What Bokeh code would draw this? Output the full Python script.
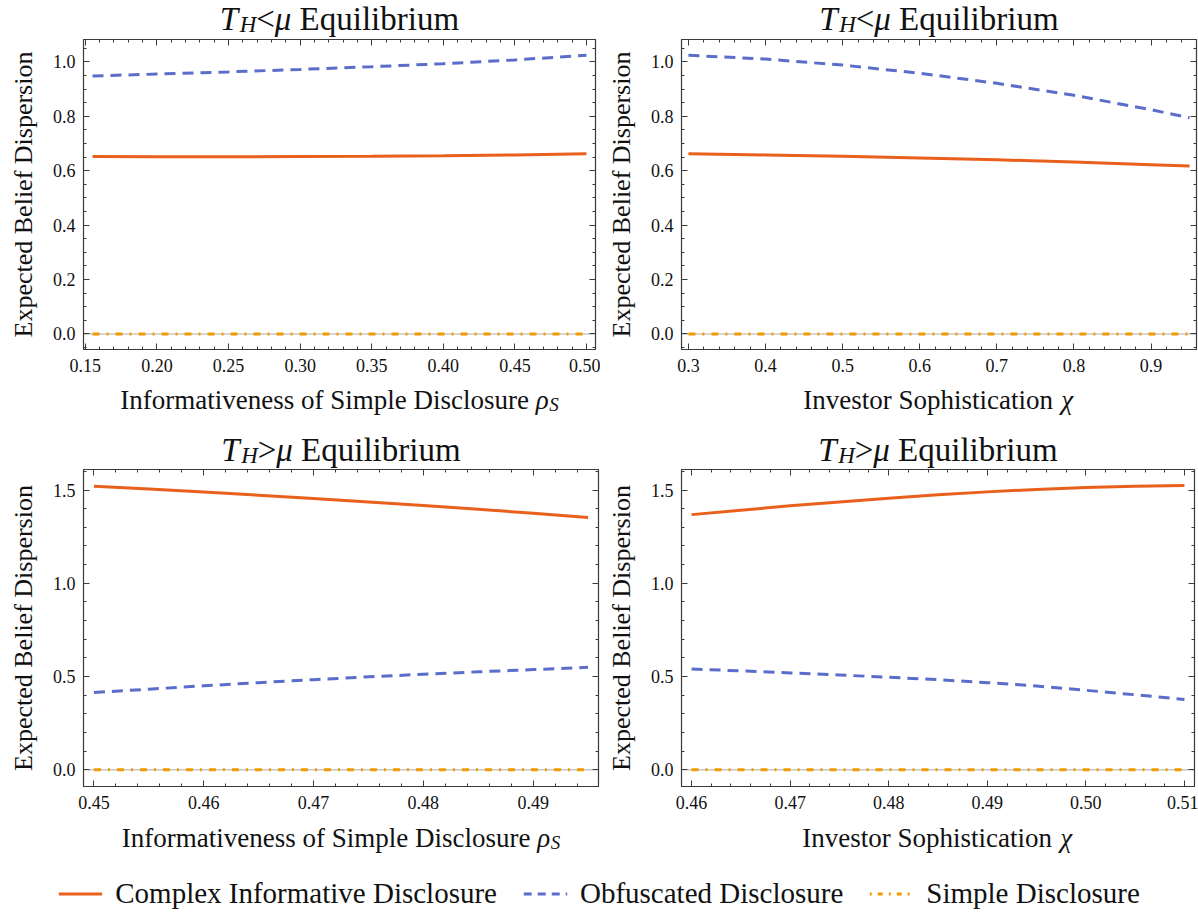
import numpy as np
from bokeh.plotting import figure
from bokeh.models import (Range1d, LinearAxis, FixedTicker, Span, Label, Legend,
                          LegendItem, NumeralTickFormatter, CustomJSTickFormatter)
from bokeh.layouts import column, row
from bokeh.embed import file_html
from bokeh.resources import INLINE

# ---------------- data ----------------
# Top-left: T_H < mu, x = informativeness of simple disclosure rho_S
tl_x = [0.155, 0.20, 0.25, 0.30, 0.35, 0.40, 0.45, 0.50]
tl_complex = [0.652, 0.651, 0.651, 0.652, 0.653, 0.655, 0.658, 0.662]
tl_obfus = [0.948, 0.955, 0.963, 0.972, 0.982, 0.993, 1.007, 1.024]
tl_simple = [0.0, 0.0, 0.0, 0.0, 0.0, 0.0, 0.0, 0.0]

# Top-right: T_H < mu, x = investor sophistication chi
tr_x = [0.30, 0.40, 0.50, 0.60, 0.70, 0.80, 0.90, 0.95]
tr_complex = [0.662, 0.658, 0.653, 0.647, 0.640, 0.632, 0.622, 0.617]
tr_obfus = [1.024, 1.010, 0.988, 0.958, 0.921, 0.877, 0.824, 0.794]
tr_simple = [0.0, 0.0, 0.0, 0.0, 0.0, 0.0, 0.0, 0.0]

# Bottom-left: T_H > mu, x = rho_S
bl_x = [0.450, 0.455, 0.460, 0.465, 0.470, 0.475, 0.480, 0.485, 0.490, 0.495]
bl_complex = [1.520, 1.505, 1.489, 1.472, 1.455, 1.436, 1.417, 1.397, 1.375, 1.352]
bl_obfus = [0.414, 0.432, 0.450, 0.467, 0.483, 0.498, 0.512, 0.525, 0.537, 0.549]
bl_simple = [0.0, 0.0, 0.0, 0.0, 0.0, 0.0, 0.0, 0.0, 0.0, 0.0]

# Bottom-right: T_H > mu, x = chi
br_x = [0.460, 0.465, 0.470, 0.475, 0.480, 0.485, 0.490, 0.495, 0.500, 0.505, 0.510]
br_complex = [1.368, 1.392, 1.415, 1.436, 1.456, 1.474, 1.490, 1.503, 1.513, 1.520, 1.524]
br_obfus = [0.540, 0.530, 0.519, 0.508, 0.496, 0.483, 0.467, 0.449, 0.426, 0.402, 0.377]
br_simple = [0.0, 0.0, 0.0, 0.0, 0.0, 0.0, 0.0, 0.0, 0.0, 0.0, 0.0]

series_names = ["Complex Informative Disclosure", "Obfuscated Disclosure", "Simple Disclosure"]
y_label = "Expected Belief Dispersion"

# ---------------- styles ----------------
FONT = "Liberation Serif"
C_COMPLEX = "#E8601C"
C_OBF = "#5B6DCB"
C_SIMPLE = "#F29A00"
FRAME = "#3a3a3a"
TXT = "#111111"
DASH_OBF = "11 7"
DASH_SIMPLE = "7 7 2 7"
LW = 3
BASE_FIX = 10  # compensation for where the svg backend puts the alphabetic baseline


def ticks(a, b, step):
    n = int(round((b - a) / step))
    return [round(a + i * step, 6) for i in range(n + 1)]


def make_panel(width, height, xr, yr, borders, xt, xmt, yt, ymt, xfmt, yfmt):
    bl, br, bt, bb = borders
    p = figure(width=width, height=height, output_backend="svg", toolbar_location=None,
               x_range=Range1d(*xr), y_range=Range1d(*yr),
               min_border_left=bl, min_border_right=br, min_border_top=bt, min_border_bottom=bb)
    p.grid.visible = False
    p.outline_line_color = FRAME
    p.outline_line_width = 1.2
    p.background_fill_color = "white"
    p.border_fill_color = "white"
    bottom = p.below[0]
    left = p.left[0]
    xtick = FixedTicker(ticks=xt, minor_ticks=xmt)
    ytick = FixedTicker(ticks=yt, minor_ticks=ymt)
    bottom.ticker = xtick
    left.ticker = ytick
    bottom.formatter = NumeralTickFormatter(format=xfmt)
    left.formatter = NumeralTickFormatter(format=yfmt)
    top = LinearAxis(ticker=xtick, formatter=CustomJSTickFormatter(code="return ''"))
    right = LinearAxis(ticker=ytick, formatter=CustomJSTickFormatter(code="return ''"))
    p.add_layout(top, "above")
    p.add_layout(right, "right")
    for ax in [bottom, left, top, right]:
        ax.axis_line_color = FRAME
        ax.major_tick_line_color = FRAME
        ax.minor_tick_line_color = FRAME
        ax.major_tick_in = 6
        ax.major_tick_out = 0
        ax.minor_tick_in = 3
        ax.minor_tick_out = 0
        ax.major_label_text_font = FONT
        ax.major_label_text_font_size = "18px"
        ax.major_label_text_color = TXT
    for ax in [top, right]:
        ax.major_label_text_font_size = "0px"
        ax.major_label_standoff = 0
    bottom.major_label_standoff = 9
    left.major_label_standoff = 8
    left.axis_label = y_label
    left.axis_label_text_font = FONT
    left.axis_label_text_font_size = "26px"
    left.axis_label_text_font_style = "normal"
    left.axis_label_text_color = TXT
    left.axis_label_standoff = 12
    p.add_layout(Span(location=0, dimension="width", line_color="#c8c8c8",
                      line_width=1.5, level="underlay"))
    return p


def add_series(p, x, yc, yo, ys):
    p.line(x, ys, line_color=C_SIMPLE, line_width=LW, line_dash=DASH_SIMPLE)
    p.line(x, yo, line_color=C_OBF, line_width=LW, line_dash=DASH_OBF)
    p.line(x, yc, line_color=C_COMPLEX, line_width=LW)


def strip(width, height, xr, borders, base_y, pieces):
    """Text-only figure whose frame lines up with the panel below/above it.
    Horizontal position in the panel's data units (+ pixel offsets), vertical in pixels."""
    bl, br = borders
    s = figure(width=width, height=height, output_backend="svg", toolbar_location=None,
               x_range=Range1d(*xr), y_range=Range1d(0, height),
               x_axis_location=None, y_axis_location=None,
               min_border_left=bl, min_border_right=br, min_border_top=0, min_border_bottom=0)
    s.grid.visible = False
    s.outline_line_color = None
    xc = (xr[0] + xr[1]) / 2.0
    total = sum(w for (_, _, _, w, _) in pieces)
    acc = -total / 2.0
    for (txt, size, style, w, dy) in pieces:
        s.add_layout(Label(x=xc, y=base_y + BASE_FIX + dy, x_offset=acc, text=txt,
                           text_font=FONT, text_font_size=f"{size}px", text_font_style=style,
                           text_align="left", text_baseline="alphabetic", text_color=TXT))
        acc += w
    return s


def title_pieces(sign):
    fs = 33
    return [("T", fs, "italic", 0.60 * fs, 0),
            ("H", 23, "italic", 0.722 * 23, -6),
            (sign, fs, "normal", 0.564 * fs, 0),
            ("\u03bc", fs, "italic", 0.75 * fs, 0),
            ("Equilibrium", fs, "normal", 4.834 * fs, 0)]


xlab_rho = [("Informativeness of Simple Disclosure", 27, "normal", 15.387 * 27, 0),
            ("\u03c1", 27, "italic", 0.5 * 27, 0),
            ("S", 19, "italic", 0.5 * 19, -5)]
xlab_chi = [("Investor Sophistication", 27, "normal", 9.55 * 27, 0),
            ("\u03c7", 27, "italic", 0.5 * 27, 0)]

y_top = (-0.057, 1.082)
y_bot = (-0.09, 1.61)

x_tl = (0.1487, 0.5063)
x_tr = (0.291, 0.959)
x_bl = (0.44905, 0.49595)
x_br = (0.45898, 0.51102)

# ---- top row: title strip 39px, plot 343px (frame 310 + 33), label strip 48px ----
p1 = make_panel(600, 343, x_tl, y_top, (83, 5, 0, 33),
                ticks(0.15, 0.50, 0.05), ticks(0.15, 0.51, 0.01),
                ticks(0.0, 1.0, 0.2), ticks(-0.05, 1.05, 0.05), "0.00", "0.0")
add_series(p1, tl_x, tl_complex, tl_obfus, tl_simple)
c1 = column(strip(600, 39, x_tl, (83, 5), 11, title_pieces("<")), p1,
            strip(600, 48, x_tl, (83, 5), 21, xlab_rho))

p2 = make_panel(598, 343, x_tr, y_top, (81, 2, 0, 33),
                ticks(0.3, 0.9, 0.1), ticks(0.3, 0.96, 0.02),
                ticks(0.0, 1.0, 0.2), ticks(-0.05, 1.05, 0.05), "0.0", "0.0")
add_series(p2, tr_x, tr_complex, tr_obfus, tr_simple)
c2 = column(strip(598, 39, x_tr, (81, 2), 11, title_pieces("<")), p2,
            strip(598, 48, x_tr, (81, 2), 21, xlab_chi))

# ---- bottom row: title strip 39px, plot 350px (frame 317 + 33), label strip 41px ----
p3 = make_panel(600, 350, x_bl, y_bot, (83, 2, 0, 33),
                ticks(0.45, 0.49, 0.01), ticks(0.45, 0.496, 0.002),
                ticks(0.0, 1.5, 0.5), ticks(0.0, 1.6, 0.1), "0.00", "0.0")
add_series(p3, bl_x, bl_complex, bl_obfus, bl_simple)
c3 = column(strip(600, 39, x_bl, (83, 2), 10, title_pieces(">")), p3,
            strip(600, 41, x_bl, (83, 2), 13, xlab_rho))

p4 = make_panel(598, 350, x_br, y_bot, (81, 4, 0, 33),
                ticks(0.46, 0.51, 0.01), ticks(0.46, 0.51, 0.002),
                ticks(0.0, 1.5, 0.5), ticks(0.0, 1.6, 0.1), "0.00", "0.0")
add_series(p4, br_x, br_complex, br_obfus, br_simple)
c4 = column(strip(598, 39, x_br, (81, 4), 10, title_pieces(">")), p4,
            strip(598, 41, x_br, (81, 4), 13, xlab_chi))

# ---- legend strip (legend renderers sit outside the visible range; only legend glyphs show) ----
pl = figure(width=1198, height=54, output_backend="svg", toolbar_location=None,
            x_range=Range1d(0, 1), y_range=Range1d(0, 1),
            x_axis_location=None, y_axis_location=None,
            min_border_left=0, min_border_right=0, min_border_top=12, min_border_bottom=0)
pl.grid.visible = False
pl.outline_line_color = None
r1 = pl.line(x=[5, 6], y=[5, 6], line_color=C_COMPLEX, line_width=LW)
r2 = pl.line(x=[5, 6], y=[5, 6], line_color=C_OBF, line_width=LW, line_dash="8 6")
r3 = pl.line(x=[5, 6], y=[5, 6], line_color=C_SIMPLE, line_width=LW, line_dash="2 6 5 6")
leg = Legend(items=[LegendItem(label=series_names[0], renderers=[r1]),
                    LegendItem(label=series_names[1], renderers=[r2]),
                    LegendItem(label=series_names[2], renderers=[r3])],
             orientation="horizontal", location="center",
             label_text_font=FONT, label_text_font_size="29px", label_text_color=TXT,
             glyph_width=44, glyph_height=20, label_standoff=13, spacing=26, padding=0,
             border_line_color=None, background_fill_alpha=0)
pl.add_layout(leg, "center")

layout = column(row(c1, c2), row(c3, c4), pl)

open("out.html", "w").write(file_html(layout, INLINE))
